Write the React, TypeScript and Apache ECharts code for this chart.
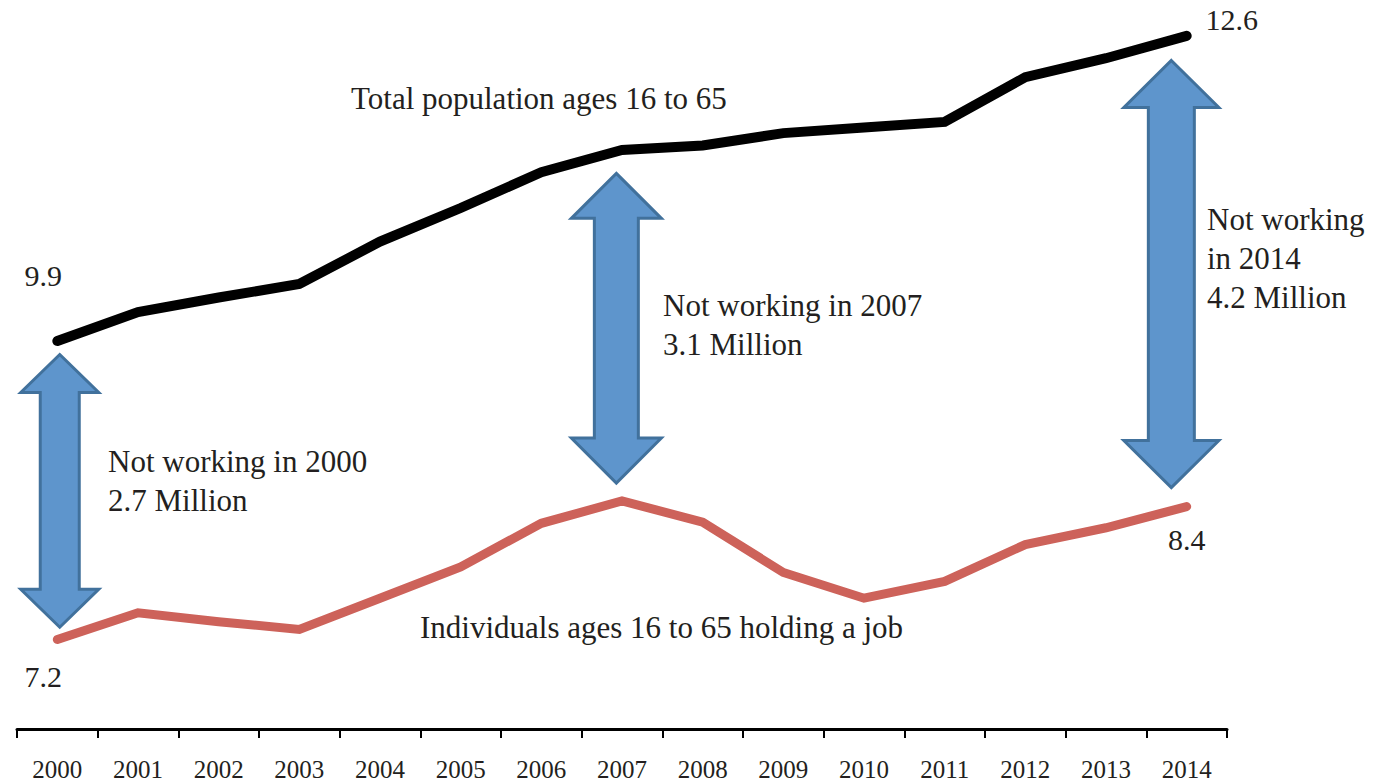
import React, { useEffect, useRef } from 'react';
import * as echarts from 'echarts';

// ---- data ----
const years = ['2000', '2001', '2002', '2003', '2004', '2005', '2006', '2007', '2008', '2009', '2010', '2011', '2012', '2013', '2014'];
const totalPopulation = [9.87, 10.13, 10.26, 10.38, 10.76, 11.06, 11.38, 11.58, 11.62, 11.73, 11.78, 11.83, 12.23, 12.4, 12.6];
const employed = [7.2, 7.44, 7.36, 7.29, 7.57, 7.85, 8.24, 8.44, 8.25, 7.8, 7.57, 7.72, 8.05, 8.2, 8.39];
// double arrows: [x position in category units, upper value, lower value]
const arrowSpans = [
  [0.03, 9.75, 7.31],
  [6.93, 11.37, 8.6],
  [13.81, 12.38, 8.56],
];

// ---- styles ----
const FONT = '"Liberation Serif", "Times New Roman", serif';
const TEXT = '#231f20';
const arrowHeadWidths = [78, 90, 95];
const arrowHeadHeights = [38, 45, 47];
const arrowShaftWidths = [39, 44, 46];

const labelOffsets: Record<string, [number, number]> = {
  't0': [-14, -66],
  't14': [45, -16],
  'e0': [-14, 37],
  'e14': [0, 33],
};

function buildSeriesData(values: number[], key: string) {
  return values.map((v, i) => {
    const off = labelOffsets[key + i];
    if (!off) return v;
    return {
      value: v,
      label: {
        show: true,
        position: 'inside',
        offset: off,
        formatter: (p: any) => Number(p.value).toFixed(1),
        fontSize: 30,
        fontFamily: FONT,
        color: TEXT,
      },
    };
  });
}

const notes = [
  { text: 'Total population ages 16 to 65', x: 351, y: 98 },
  { text: 'Individuals ages 16 to 65 holding a job', x: 420, y: 627 },
  { text: 'Not working in 2000\n2.7 Million', x: 108, y: 481 },
  { text: 'Not working in 2007\n3.1 Million', x: 663, y: 325 },
  { text: 'Not working\nin 2014\n4.2 Million', x: 1207, y: 258 },
];

export default function App() {
  const ref = useRef<HTMLDivElement>(null);
  useEffect(() => {
    if (!ref.current) return;
    const chart = echarts.init(ref.current, null, { renderer: 'svg' });
    chart.setOption({
      animation: false,
      backgroundColor: '#ffffff',
      grid: { left: 17, right: 158, top: 13.5, bottom: 55, containLabel: false },
      xAxis: [
        {
          type: 'category',
          data: years,
          boundaryGap: true,
          axisLine: { lineStyle: { color: '#000', width: 3 } },
          axisTick: { show: true, length: 9, lineStyle: { color: '#000', width: 2 } },
          axisLabel: { interval: 0, fontSize: 25, fontFamily: FONT, color: TEXT, margin: 28 },
          splitLine: { show: false },
        },
        { type: 'value', min: -0.5, max: 14.5, show: false },
      ],
      yAxis: { type: 'value', min: 6.4, max: 12.8, show: false },
      series: [
        {
          type: 'custom',
          name: 'Not working',
          xAxisIndex: 1,
          yAxisIndex: 0,
          silent: true,
          z: 1,
          data: arrowSpans,
          renderItem: (params: any, api: any) => {
            const i = params.dataIndex;
            const x = api.value(0);
            const top = api.coord([x, api.value(1)]);
            const bot = api.coord([x, api.value(2)]);
            const cx = top[0];
            const hw = arrowHeadWidths[i] / 2;
            const hh = arrowHeadHeights[i];
            const sw = arrowShaftWidths[i] / 2;
            const t = top[1];
            const b = bot[1];
            const points = [
              [cx, t],
              [cx + hw, t + hh],
              [cx + sw, t + hh],
              [cx + sw, b - hh],
              [cx + hw, b - hh],
              [cx, b],
              [cx - hw, b - hh],
              [cx - sw, b - hh],
              [cx - sw, t + hh],
              [cx - hw, t + hh],
            ];
            return {
              type: 'polygon',
              shape: { points },
              style: { fill: '#5e95cc', stroke: '#41719c', lineWidth: 3, lineJoin: 'miter' },
            };
          },
        },
        {
          type: 'line',
          name: 'Total population ages 16 to 65',
          data: buildSeriesData(totalPopulation, 't'),
          symbol: 'circle',
          symbolSize: 1,
          showSymbol: true,
          itemStyle: { color: '#000' },
          lineStyle: { color: '#000', width: 10, cap: 'round', join: 'miter' },
          z: 3,
        },
        {
          type: 'line',
          name: 'Individuals ages 16 to 65 holding a job',
          data: buildSeriesData(employed, 'e'),
          symbol: 'circle',
          symbolSize: 1,
          showSymbol: true,
          itemStyle: { color: '#cd625a' },
          lineStyle: { color: '#cd625a', width: 9, cap: 'round', join: 'miter' },
          z: 3,
        },
      ],
      graphic: notes.map((n) => ({
        type: 'text',
        x: n.x,
        y: n.y,
        silent: true,
        style: {
          text: n.text,
          fontSize: 31,
          fontFamily: FONT,
          fill: TEXT,
          align: 'left',
          verticalAlign: 'middle',
          lineHeight: 39,
        },
      })),
    });
    return () => chart.dispose();
  }, []);
  return (
    <div
      ref={ref}
      style={{ position: 'fixed', left: 0, top: 0, width: 1385, height: 784, background: '#fff' }}
    />
  );
}
